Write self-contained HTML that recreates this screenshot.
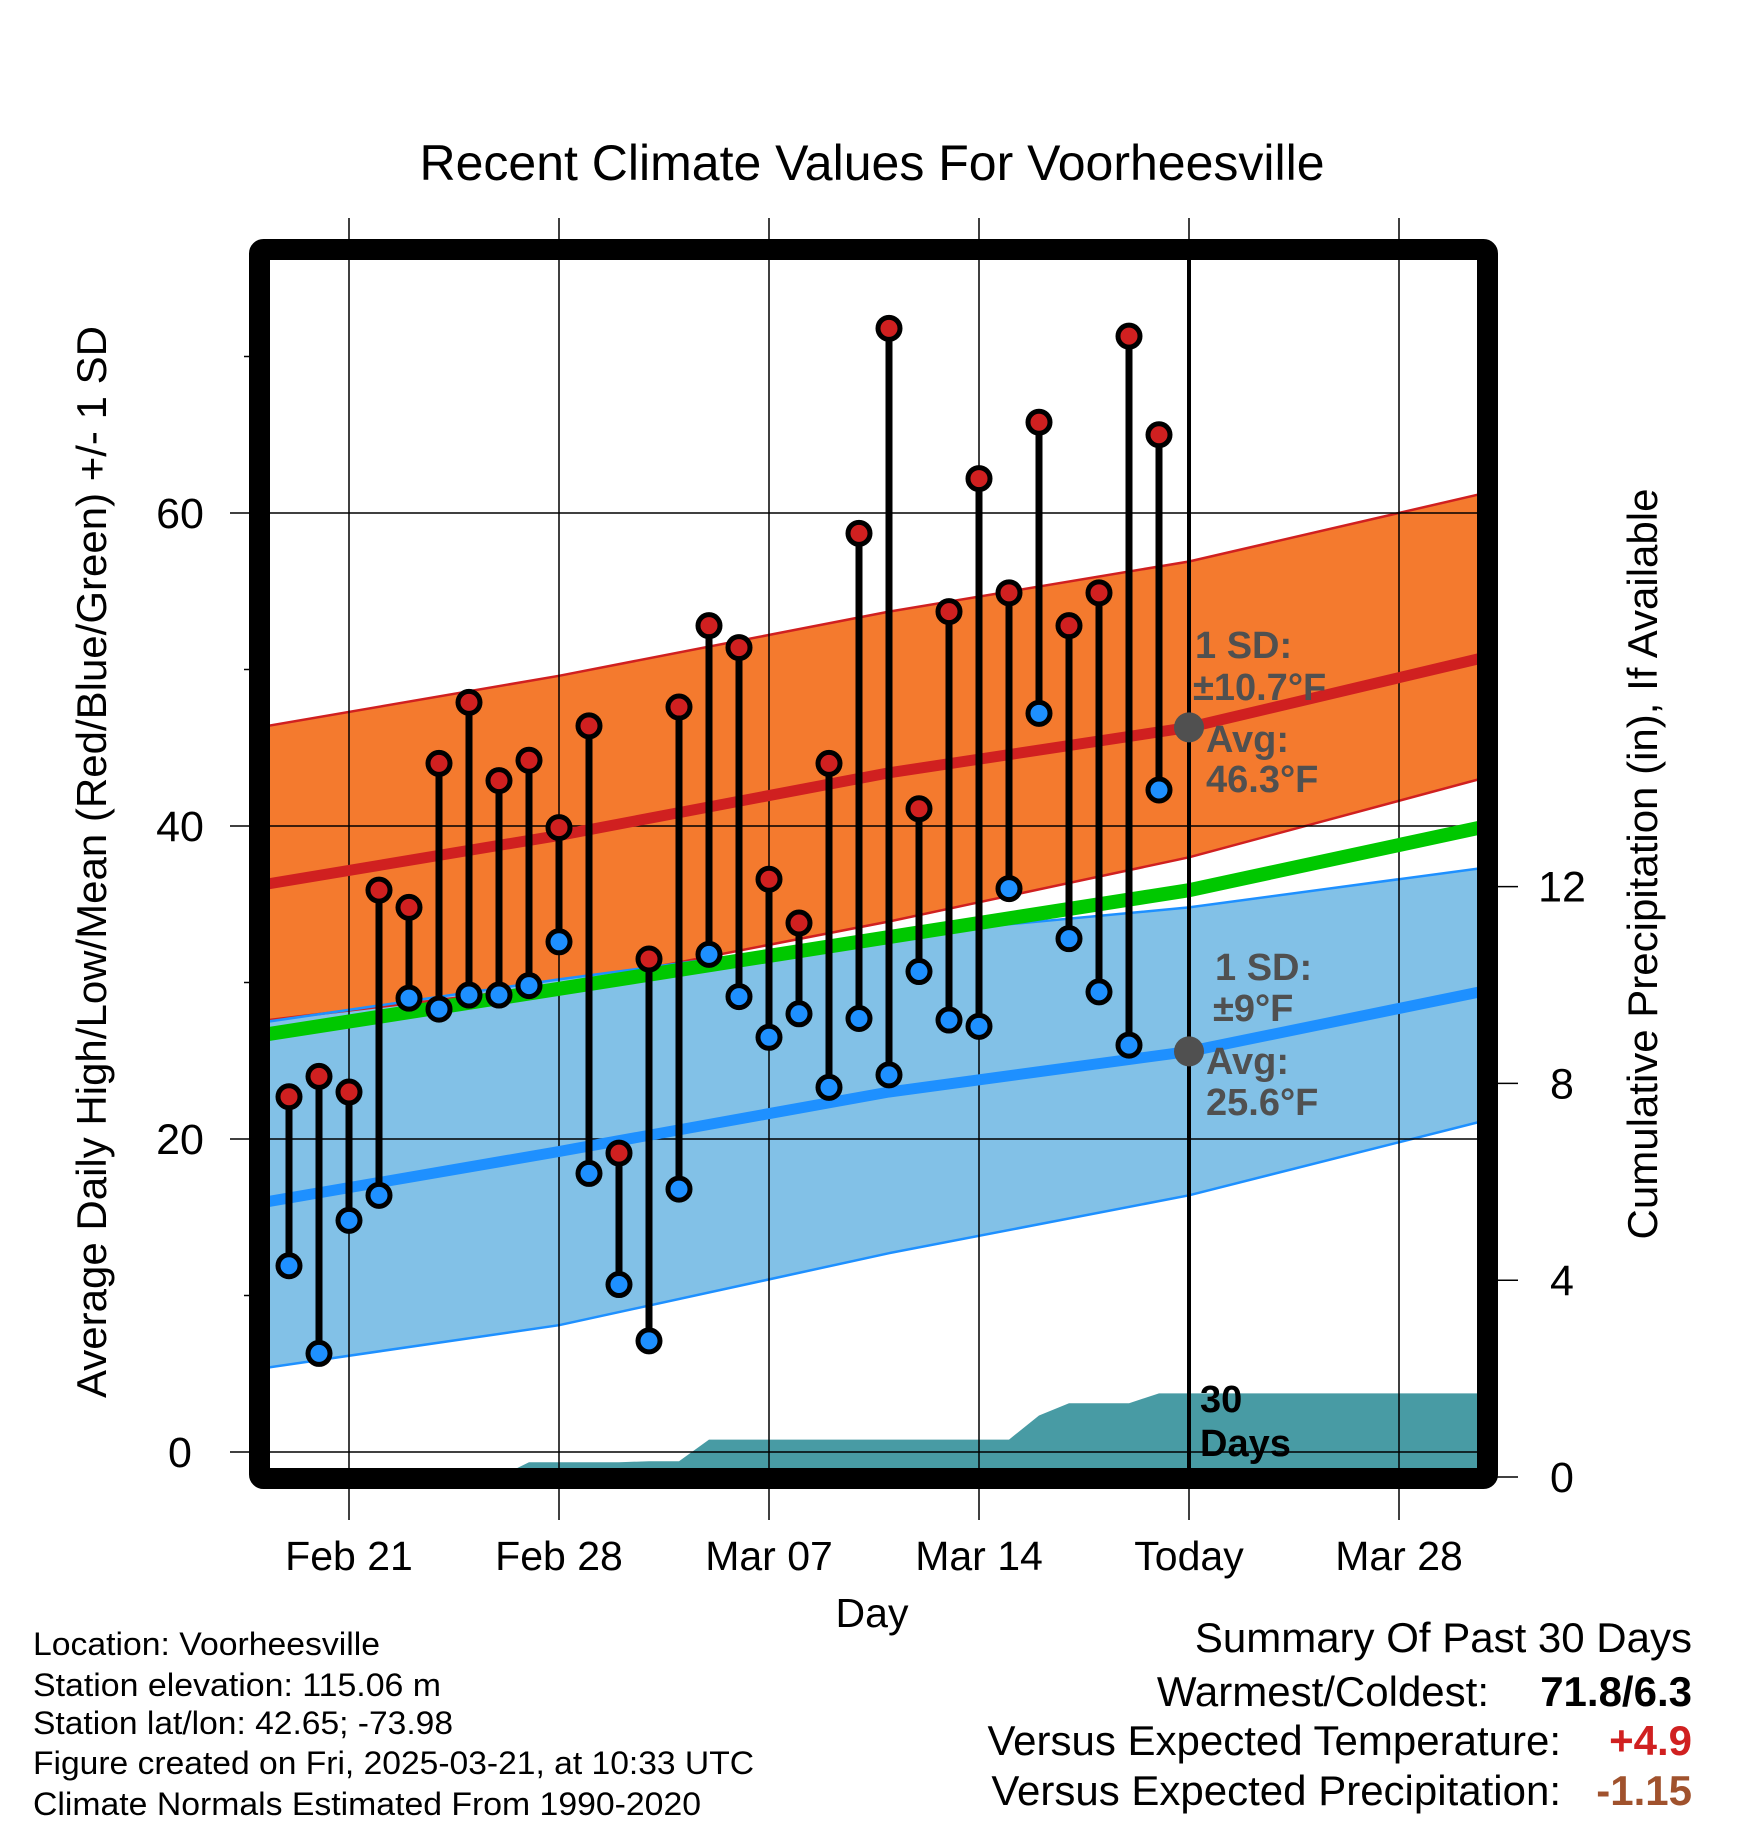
<!DOCTYPE html>
<html><head><meta charset="utf-8"><style>
html,body{margin:0;padding:0;background:#fff;}
svg{display:block;font-family:"Liberation Sans",Arial,sans-serif;}
</style></head><body>
<svg id="chart" width="1748" height="1828" viewBox="0 0 1748 1828" xmlns="http://www.w3.org/2000/svg">
<defs><clipPath id="plotclip"><rect x="270" y="260" width="1207" height="1208"/></clipPath></defs>
<text x="872" y="180" font-size="50" text-anchor="middle">Recent Climate Values For Voorheesville</text>
<g id="plot" clip-path="url(#plotclip)"></g>
<g id="over"></g>
<text transform="translate(106,862) rotate(-90)" font-size="42" text-anchor="middle">Average Daily High/Low/Mean (Red/Blue/Green) +/- 1 SD</text>
<text transform="translate(1657,864) rotate(-90)" font-size="42" text-anchor="middle">Cumulative Precipitation (in), If Available</text>
<text x="872" y="1627" font-size="41" text-anchor="middle">Day</text>
<g font-size="32">
<text x="33" y="1655" textLength="347" lengthAdjust="spacingAndGlyphs">Location: Voorheesville</text>
<text x="33" y="1696" textLength="408" lengthAdjust="spacingAndGlyphs">Station elevation: 115.06 m</text>
<text x="33" y="1734" textLength="420" lengthAdjust="spacingAndGlyphs">Station lat/lon: 42.65; -73.98</text>
<text x="33" y="1774" textLength="721" lengthAdjust="spacingAndGlyphs">Figure created on Fri, 2025-03-21, at 10:33 UTC</text>
<text x="33" y="1815" textLength="668" lengthAdjust="spacingAndGlyphs">Climate Normals Estimated From 1990-2020</text>
</g>
<g font-size="42">
<text x="1692" y="1652" text-anchor="end">Summary Of Past 30 Days</text>
<text x="1489" y="1706" text-anchor="end">Warmest/Coldest:</text>
<text x="1692" y="1706" text-anchor="end" font-weight="bold">71.8/6.3</text>
<text x="1561" y="1755" text-anchor="end">Versus Expected Temperature:</text>
<text x="1692" y="1755" text-anchor="end" font-weight="bold" fill="#d02020">+4.9</text>
<text x="1561" y="1805" text-anchor="end">Versus Expected Precipitation:</text>
<text x="1692" y="1805" text-anchor="end" font-weight="bold" fill="#a0522d">-1.15</text>
</g>
</svg>
<script>
// Daily observations, day 0 = Feb 19
const highs=[22.7,24.0,23.0,35.9,34.8,44.0,47.9,42.9,44.2,39.9,46.4,19.1,31.5,47.6,52.8,51.4,36.6,33.8,44.0,58.7,71.8,41.1,53.7,62.2,54.9,65.8,52.8,54.9,71.3,65.0];
const lows=[11.9,6.3,14.8,16.4,29.0,28.3,29.2,29.2,29.8,32.6,17.8,10.7,7.1,16.8,31.8,29.1,26.5,28.0,23.3,27.7,24.1,30.7,27.6,27.2,36.0,47.2,32.8,29.4,26.0,42.3];
const precip=[0,0,0,0,0,0,0,0,0.3,0.3,0.3,0.3,0.32,0.32,0.76,0.76,0.76,0.76,0.76,0.76,0.76,0.76,0.76,0.76,0.76,1.25,1.5,1.5,1.5,1.7];
// Normals at sample days
const normDays=[-0.7,9,20,30,39.7];
const highAvg=[36.3,39.4,43.4,46.3,50.7];
const highUp=[46.4,49.6,53.7,56.9,61.2];
const highLo=[27.6,29.8,33.9,38.0,43.0];
const meanAvg=[26.7,29.6,32.9,35.9,39.9];
const lowAvg=[16.0,19.2,23.0,25.6,29.4];
const lowUp=[27.5,30.2,33.0,34.8,37.3];
const lowLo=[5.4,8.1,12.7,16.4,21.1];
const yTicks=[0,20,40,60];
const yMinor=[10,30,50,70];
const pTicks=[0,4,8,12];
const xTickDays=[2,9,16,23,30,37];
const xTickLabels=["Feb 21","Feb 28","Mar 07","Mar 14","Today","Mar 28"];

const NS="http://www.w3.org/2000/svg";
const X=d=>289+30*d, Y=t=>1452-15.65*t, YP=p=>1477-49.2*p;
const plot=document.getElementById('plot'), over=document.getElementById('over');
function mk(tag,attrs,parent){const e=document.createElementNS(NS,tag);for(const k in attrs)e.setAttribute(k,attrs[k]);parent.appendChild(e);return e;}
const pts=arr=>normDays.map((d,i)=>X(d).toFixed(1)+','+Y(arr[i]).toFixed(1));

let e;
e=mk('polygon',{points:pts(highUp).concat(pts(highLo).reverse()).join(' '),fill:'#f47a2e'},plot);

e=mk('polygon',{points:pts(lowUp).concat(pts(lowLo).reverse()).join(' '),fill:'#82c1e7'},plot);

[[highUp,'#d02020',2.5,'high-upper-line'],[highLo,'#d02020',2.5,'high-lower-line'],[lowUp,'#1e90ff',2.5,'low-upper-line'],[lowLo,'#1e90ff',2.5,'low-lower-line']].forEach(a=>{
 e=mk('polyline',{points:pts(a[0]).join(' '),fill:'none',stroke:a[1],'stroke-width':a[2]},plot);
 });
let pp=[X(-0.7)+','+YP(0)];
precip.forEach((p,i)=>pp.push(X(i)+','+YP(p)));
pp.push(X(39.7)+','+YP(precip[precip.length-1]));pp.push(X(39.7)+','+YP(0));
e=mk('polygon',{points:pp.join(' '),fill:'#489ba4'},plot);

yTicks.forEach(t=>{e=mk('line',{x1:230,x2:1477,y1:Y(t),y2:Y(t),stroke:'#000','stroke-width':1.5},over);
 
 e=mk('text',{x:180,y:Y(t)+15,'font-size':43,'text-anchor':'middle'},over);e.textContent=t;
 });
yMinor.forEach(t=>{e=mk('line',{x1:244,x2:260,y1:Y(t),y2:Y(t),stroke:'#000','stroke-width':1.5},over);
 });
xTickDays.forEach((d,i)=>{e=mk('line',{x1:X(d),x2:X(d),y1:218,y2:1520,stroke:'#000','stroke-width':1.5},over);
 
 e=mk('text',{x:X(d),y:1570,'font-size':41,'text-anchor':'middle'},over);e.textContent=xTickLabels[i];
 });
pTicks.forEach(p=>{e=mk('line',{x1:1480,x2:1518,y1:YP(p),y2:YP(p),stroke:'#000','stroke-width':1.5},over);
 
 e=mk('text',{x:1562,y:YP(p)+15,'font-size':43,'text-anchor':'middle'},over);e.textContent=p;
 });
const g2=mk('g',{'clip-path':'url(#plotclip)'},over);
[[highAvg,'#d02020',11,'high-avg-line'],[meanAvg,'#00c800',14,'mean-avg-line'],[lowAvg,'#1e90ff',11,'low-avg-line']].forEach(a=>{
 e=mk('polyline',{points:pts(a[0]).join(' '),fill:'none',stroke:a[1],'stroke-width':a[2]},g2);
 });
e=mk('line',{x1:X(30),x2:X(30),y1:260,y2:1468,stroke:'#000','stroke-width':4},over);

highs.forEach((h,i)=>{e=mk('line',{x1:X(i),x2:X(i),y1:Y(h),y2:Y(lows[i]),stroke:'#000','stroke-width':7},over);
 });
highs.forEach((h,i)=>{e=mk('circle',{cx:X(i),cy:Y(h),r:11,fill:'#d02020',stroke:'#000','stroke-width':5},over);
 
 e=mk('circle',{cx:X(i),cy:Y(lows[i]),r:11,fill:'#1e90ff',stroke:'#000','stroke-width':5},over);
 });
e=mk('circle',{cx:X(30),cy:Y(46.3),r:15,fill:'#505050'},over);

e=mk('circle',{cx:X(30),cy:Y(25.6),r:15,fill:'#505050'},over);

const ann=[["1 SD:",1195,658],["±10.7°F",1193,700],["Avg:",1206,752],["46.3°F",1206,792],["1 SD:",1215,980],["±9°F",1213,1021],["Avg:",1206,1074],["25.6°F",1206,1115]];
ann.forEach(a=>{e=mk('text',{x:a[1],y:a[2],'font-size':38,'font-weight':'bold',fill:'#505050'},over);e.textContent=a[0];
 });
e=mk('text',{x:1200,y:1412,'font-size':38,'font-weight':'bold',fill:'#000'},over);e.textContent='30';

e=mk('text',{x:1200,y:1456,'font-size':38,'font-weight':'bold',fill:'#000'},over);e.textContent='Days';

e=mk('rect',{x:259.5,y:249.5,width:1228,height:1229,fill:'none',stroke:'#000','stroke-width':21,rx:4},over);

</script>
</body></html>
